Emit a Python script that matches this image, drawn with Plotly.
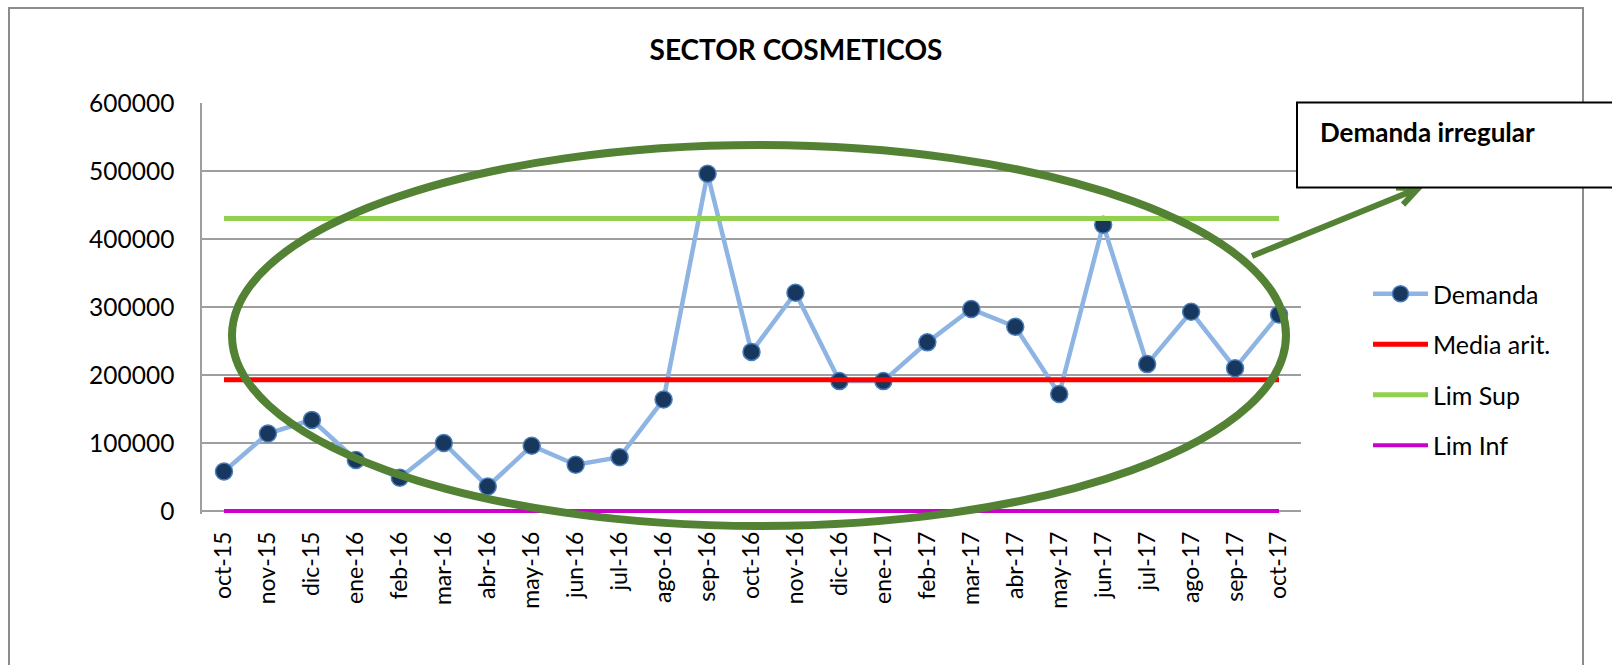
import math
import plotly.graph_objects as go

# Monthly demand, cosmetics sector
meses = ["oct-15", "nov-15", "dic-15", "ene-16", "feb-16", "mar-16", "abr-16",
         "may-16", "jun-16", "jul-16", "ago-16", "sep-16", "oct-16", "nov-16",
         "dic-16", "ene-17", "feb-17", "mar-17", "abr-17", "may-17", "jun-17",
         "jul-17", "ago-17", "sep-17", "oct-17"]
demanda = [58000, 114000, 134000, 75000, 49000, 100000, 36000, 96000, 68000,
           79000, 164000, 496000, 234000, 321000, 191000, 191000, 248000,
           297000, 271000, 172000, 421000, 216000, 293000, 210000, 289000]
media_arit = 193000
lim_sup = 430000
lim_inf = 0

y_ticks = [0, 100000, 200000, 300000, 400000, 500000, 600000]

FONT = "Lato"

# page / plot-area geometry in pixels; the value axis starts a few pixels
# below zero so the lower-limit line is not cut in half by the plot clip
W, H = 1612, 665
L, R, T, B = 202, 311, 103, 151
PW, PH = W - L - R, H - T - B
Y_MIN = -600000 * 3 / 408


def px(x):
    return (x - L) / PW


def py(y):
    return (H - B - y) / PH


def arrow_path(tail, tip, head_len=22, head_deg=25):
    """Open-headed arrow as an SVG path in paper coordinates."""
    ux, uy = tail[0] - tip[0], tail[1] - tip[1]
    n = math.hypot(ux, uy)
    ux, uy = ux / n, uy / n
    pts = []
    for s in (1, -1):
        a = math.radians(head_deg) * s
        vx = ux * math.cos(a) - uy * math.sin(a)
        vy = ux * math.sin(a) + uy * math.cos(a)
        pts.append((tip[0] + head_len * vx, tip[1] + head_len * vy))

    def p(pt):
        return f"{px(pt[0]):.5f},{py(pt[1]):.5f}"

    return (f"M{p(tail)} L{p(tip)} M{p(pts[0])} L{p(tip)} L{p(pts[1])}")


fig = go.Figure()

fig.add_trace(go.Scatter(
    x=meses, y=demanda, name="Demanda", mode="lines+markers",
    line=dict(color="#8db4e2", width=4.5),
    marker=dict(size=17, color="#17375e", line=dict(color="#4a7ebb", width=1.5)),
    legendgroup="a",
))
fig.add_trace(go.Scatter(
    x=meses, y=[media_arit] * len(meses), name="Media arit.", mode="lines",
    line=dict(color="#ff0000", width=5), legendgroup="b",
))
fig.add_trace(go.Scatter(
    x=meses, y=[lim_sup] * len(meses), name="Lim Sup", mode="lines",
    line=dict(color="#92d050", width=5), legendgroup="c",
))
fig.add_trace(go.Scatter(
    x=meses, y=[lim_inf] * len(meses), name="Lim Inf", mode="lines",
    line=dict(color="#cc00cc", width=4), legendgroup="d",
))

shapes = [
    # chart-area frame
    dict(type="rect", xref="paper", yref="paper",
         x0=px(9), x1=px(1583), y0=py(8), y1=py(720),
         line=dict(color="#8c8c8c", width=2), fillcolor="rgba(0,0,0,0)",
         layer="above"),
    # ellipse around the irregular months
    dict(type="circle", xref="paper", yref="paper",
         x0=px(232), x1=px(1286), y0=py(526), y1=py(145),
         line=dict(color="#548235", width=8), layer="above"),
    # arrow from the ellipse to the callout
    dict(type="path", xref="paper", yref="paper",
         path=arrow_path((1252, 256), (1418, 188.5)),
         line=dict(color="#548235", width=6), layer="above"),
    # callout box
    dict(type="rect", xref="paper", yref="paper",
         x0=px(1297), x1=px(1650), y0=py(102.5), y1=py(187.5),
         line=dict(color="#000000", width=2), fillcolor="#ffffff",
         layer="above"),
]

annotations = [
    dict(text="<b>Demanda irregular</b>", xref="paper", yref="paper",
         x=px(1318), y=py(132), xanchor="left", yanchor="middle",
         showarrow=False, font=dict(family=FONT, size=26, color="#000000")),
]

fig.update_layout(
    width=W, height=H,
    margin=dict(l=L, r=R, t=T, b=B, autoexpand=False),
    paper_bgcolor="#ffffff", plot_bgcolor="#ffffff",
    font=dict(family=FONT, color="#000000"),
    title=dict(text="<b>SECTOR COSMETICOS</b>", xref="container", yref="container",
               x=796 / W, y=1 - 50 / H, xanchor="center", yanchor="middle",
               font=dict(family=FONT, size=28, color="#000000")),
    xaxis=dict(type="category", range=[-0.5, len(meses) - 0.5],
               tickangle=-90, tickfont=dict(family=FONT, size=23),
               showgrid=False, showline=False,
               ticks="", ticklabelstandoff=12),
    yaxis=dict(range=[Y_MIN, 600000], tickvals=y_ticks, tickformat="d",
               tickfont=dict(family=FONT, size=24.5),
               showgrid=True, gridcolor="#9e9e9e", gridwidth=1.5,
               showline=True, linecolor="#9e9e9e", linewidth=1.5,
               zeroline=True, zerolinecolor="#9e9e9e", zerolinewidth=1.5,
               ticks="", ticklabelstandoff=21),
    legend=dict(x=px(1368), y=py(271), xanchor="left", yanchor="top",
                font=dict(family=FONT, size=25), tracegroupgap=15,
                itemwidth=55, bgcolor="rgba(0,0,0,0)"),
    shapes=shapes,
    annotations=annotations,
)

fig.write_html("out.html")
